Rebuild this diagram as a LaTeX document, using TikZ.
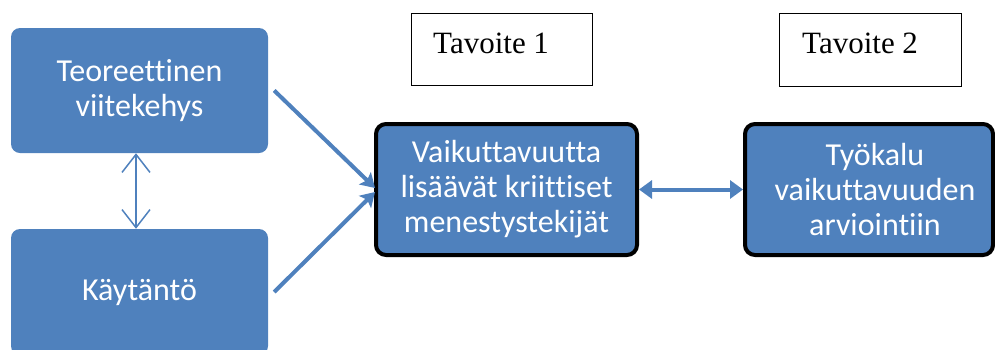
\documentclass[tikz,border=0pt]{standalone}
\usepackage{fontspec}
\setmainfont{Carlito}[Ligatures=NoCommon]
\newfontfamily\serifT{Liberation Serif}
\usetikzlibrary{arrows.meta}
\definecolor{obl}{HTML}{4F81BD}
\begin{document}
\begin{tikzpicture}[x=1pt,y=-1pt,
  bluebox/.style={fill=obl, rounded corners=9pt, inner sep=0pt, text=white,
    font=\fontsize{32}{35}\selectfont, align=center},
  keybox/.style={bluebox, draw=black, line width=4pt, rounded corners=10pt},
  boxtext/.style={inner sep=0pt, text=white, font=\fontsize{32}{35}\selectfont, align=center},
  goalbox/.style={draw=black, line width=1pt, inner sep=0pt},
  goaltext/.style={anchor=base west, inner sep=0pt, font=\serifT\fontsize{31}{37}\selectfont},
  thickarr/.style={draw=obl, line width=4pt, -{Stealth[width=17pt,length=14pt,inset=3pt]}},
  twoway/.style={draw=obl, line width=4pt, {Triangle[width=18pt,length=13pt]}-{Triangle[width=18pt,length=13pt]}},
  thinarr/.style={draw=obl, line width=1.5pt, {Straight Barb[width=28pt,length=18pt]}-{Straight Barb[width=28pt,length=18pt]}}
]
\useasboundingbox (0,0) rectangle (995,349);
\clip (0,0) rectangle (995,349);

\node[bluebox, minimum width=257pt, minimum height=125pt] (A) at (139.5,90.5) {Teoreettinen\\viitekehys};
\node[bluebox, minimum width=257pt, minimum height=126pt] (B) at (139.5,292) {Käytäntö};
\node[keybox, minimum width=261pt, minimum height=131pt] (C) at (506.5,189.5) {Vaikuttavuutta\\lisäävät kriittiset\\menestystekijät};
\node[keybox, minimum width=248pt, minimum height=131pt] (D) at (869,189.5) {};
\node[boxtext] (Dt) at (875,189.5) {Työkalu\\vaikuttavuuden\\arviointiin};

\node[goalbox, minimum width=181pt, minimum height=72pt] (T1) at (502,49.5) {};
\node[goaltext] (T1t) at (433,53) {Tavoite 1};
\node[goalbox, minimum width=182pt, minimum height=73pt] (T2) at (870.5,50) {};
\node[goaltext] (T2t) at (802,53) {Tavoite 2};

\draw[thinarr] ([xshift=-3.5pt]A.south) -- ([xshift=-3.5pt]B.north);
\draw[thickarr] ([xshift=6pt]A.east) -- ([shift={(1,-1.5)}]C.west);
\draw[thickarr] ([xshift=6pt]B.east) -- ([shift={(1,2.5)}]C.west);
\draw[twoway] (C.east) -- (D.west);
\end{tikzpicture}
\end{document}
